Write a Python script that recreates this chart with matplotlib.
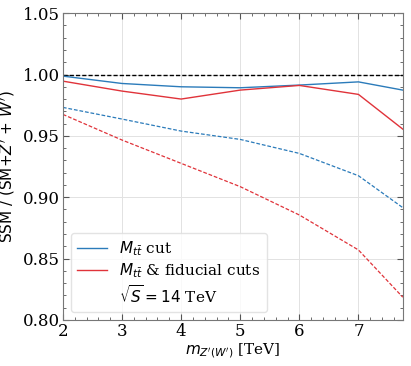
import numpy as np
import matplotlib
matplotlib.use("Agg")
import matplotlib.pyplot as plt
from matplotlib.lines import Line2D
from matplotlib.ticker import MultipleLocator

plt.rcParams['font.family'] = 'DejaVu Serif'
plt.rcParams['mathtext.fontset'] = 'dejavusans'

# masses in TeV
mass = [2, 3, 4, 5, 6, 7, 7.75]

# solid: without W' contamination-ish, dashed: with
mtt_cut = [0.9987, 0.9927, 0.9900, 0.9892, 0.9914, 0.9940, 0.9873]
mtt_fid = [0.9946, 0.9865, 0.9800, 0.9873, 0.9911, 0.9838, 0.9555]
mtt_cut_dash = [0.9732, 0.9637, 0.9539, 0.9471, 0.9357, 0.9175, 0.8915]
mtt_fid_dash = [0.9675, 0.9466, 0.9276, 0.9086, 0.8855, 0.8570, 0.8185]

blue = '#2b7bba'
red = '#e0333a'

fig = plt.figure(figsize=(4.11, 3.66), dpi=100)
ax = fig.add_axes([0.153, 0.126, 0.827, 0.838])

ax.axhline(1.0, color='black', ls='--', lw=1.0, dashes=(3, 1.5))
ax.plot(mass, mtt_cut, color=blue, lw=1.0)
ax.plot(mass, mtt_fid, color=red, lw=1.0)
ax.plot(mass, mtt_cut_dash, color=blue, lw=0.9, ls='--', dashes=(3, 1.5))
ax.plot(mass, mtt_fid_dash, color=red, lw=0.9, ls='--', dashes=(3, 1.5))

ax.set_xlim(2, 7.75)
ax.set_ylim(0.80, 1.05)
ax.xaxis.set_major_locator(MultipleLocator(1))
ax.xaxis.set_minor_locator(MultipleLocator(0.2))
ax.yaxis.set_major_locator(MultipleLocator(0.05))
ax.yaxis.set_minor_locator(MultipleLocator(0.01))
ax.tick_params(which='both', direction='in', top=True, right=True, color='#555555')
ax.tick_params(which='major', length=4, labelsize=12, pad=2)
ax.tick_params(which='minor', length=2)
ax.grid(True, which='major', color='#e2e2e2', lw=0.7)
for s in ax.spines.values():
    s.set_color('#777777')

ax.set_xlabel(r"$m_{Z'(W')}$ [TeV]", fontsize=11, labelpad=1)
ax.set_ylabel(r"SSM / (SM+$Z'$ + $W'$)", fontsize=11, family='DejaVu Sans')

handles = [Line2D([], [], color=blue, lw=1.0),
           Line2D([], [], color=red, lw=1.0),
           Line2D([], [], color='none')]
labels = [r"$M_{t\bar{t}}$ cut", r"$M_{t\bar{t}}$ & fiducial cuts",
          r"$\sqrt{S} = 14$ TeV"]
ax.legend(handles, labels, loc='lower left', fontsize=11, handlelength=2.0,
          labelspacing=0.25, framealpha=0.8, edgecolor='#dddddd',
          borderaxespad=0.5)

fig.savefig('out.png', dpi=100)
